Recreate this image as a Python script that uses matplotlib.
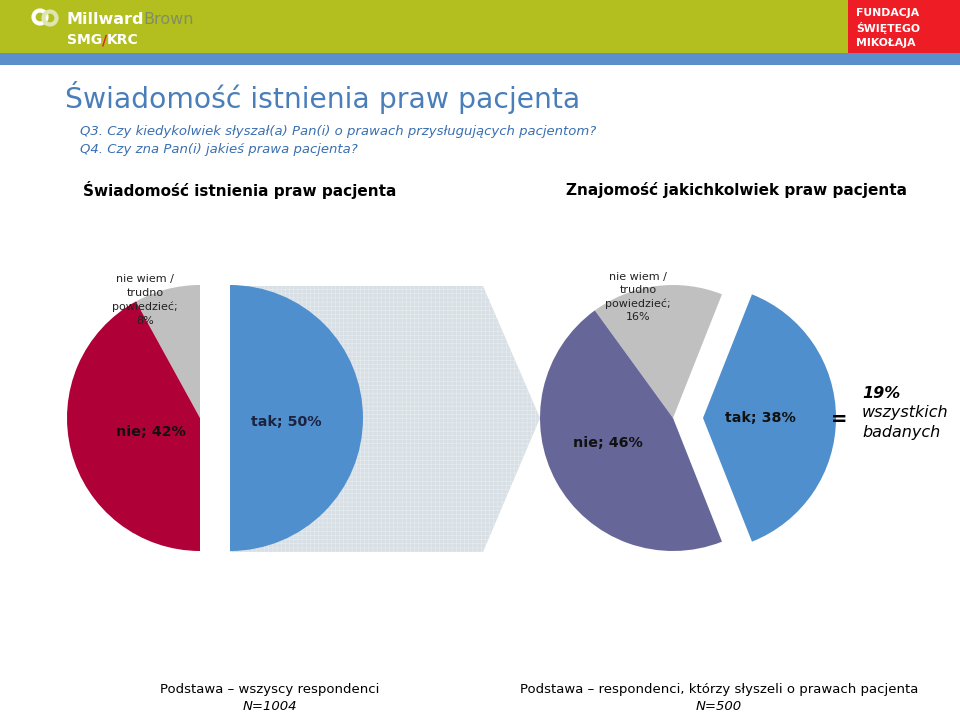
import matplotlib
matplotlib.use('Agg')
import matplotlib.pyplot as plt
from matplotlib.patches import Rectangle, Polygon, Circle

plt.rcParams['font.family'] = ['DejaVu Sans']
plt.rcParams['hatch.linewidth'] = 0.4

# data
left_cats = ['tak', 'nie wiem /\ntrudno\npowiedzieć', 'nie']
left_vals = [50, 8, 42]
right_cats = ['tak', 'nie wiem /\ntrudno\npowiedzieć', 'nie']
right_vals = [38, 16, 46]
left_colors = ['#4F8FCD', '#C0C0C0', '#B00038']
right_colors = ['#4F8FCD', '#C0C0C0', '#666699']

W, H = 960, 712


def Y(y):
    # pixel row (from top) -> axis coordinate
    return H - y


fig = plt.figure(figsize=(9.6, 7.12), dpi=100)
ax = fig.add_axes([0, 0, 1, 1])

# header band
ax.add_patch(Rectangle((0, Y(53)), W, 53, color='#B3BF1F', lw=0))
ax.add_patch(Rectangle((0, Y(65)), W, 12, color='#5B8FCB', lw=0))
ax.add_patch(Rectangle((848, Y(53)), W - 848, 53, color='#EE1C25', lw=0))
for i, t in enumerate(['FUNDACJA', 'ŚWIĘTEGO', 'MIKOŁAJA']):
    ax.text(856, Y(13 + i * 15), t, color='white', fontsize=7.8, fontweight='bold',
            va='center', ha='left')

# Millward Brown logo
ax.add_patch(Circle((40, Y(17)), 6.5, fc='none', ec='white', lw=3))
ax.add_patch(Circle((50, Y(18)), 6.5, fc='none', ec='#DDE6B0', lw=3))
mw = ax.text(66, Y(20), 'Millward', color='white', fontsize=11.5, fontweight='bold',
             va='center', ha='left')
ax.annotate('Brown', xy=(1, 0.5), xycoords=mw, color='#7F8F62', fontsize=11.5,
            va='center', ha='left')
smg = ax.text(67, Y(40), 'SMG', color='white', fontsize=10, fontweight='bold',
              va='center', ha='left')
sl = ax.annotate('/', xy=(1, 0.5), xycoords=smg, color='#E8202A', fontsize=10,
                 fontweight='bold', va='center', ha='left')
ax.annotate('KRC', xy=(1, 0.5), xycoords=sl, color='white', fontsize=10,
            fontweight='bold', va='center', ha='left')

# titles
ax.text(65, Y(97), 'Świadomość istnienia praw pacjenta', color='#4A7EBB', fontsize=20.3,
        va='center', ha='left')
ax.text(80, Y(132), 'Q3. Czy kiedykolwiek słyszał(a) Pan(i) o prawach przysługujących pacjentom?',
        color='#3A6FB0', fontsize=9.5, style='italic', va='center', ha='left')
ax.text(80, Y(150), 'Q4. Czy zna Pan(i) jakieś prawa pacjenta?',
        color='#3A6FB0', fontsize=9.5, style='italic', va='center', ha='left')

ax.text(240, Y(190), 'Świadomość istnienia praw pacjenta', fontsize=11, fontweight='bold',
        va='center', ha='center')
ax.text(736, Y(190), 'Znajomość jakichkolwiek praw pacjenta', fontsize=11, fontweight='bold',
        va='center', ha='center')

# chevron arrow between the charts
chev = [(230, Y(286)), (483, Y(286)), (540, Y(418)), (483, Y(552)), (230, Y(552))]
ax.add_patch(Polygon(chev, closed=True, fc='#D8E0E6', ec='none', lw=0))
ax.add_patch(Polygon(chev, closed=True, fc='none', ec='#E8EDF0', lw=0, hatch='++++'))

R = 133
# left pie
ax.pie(left_vals, colors=left_colors, startangle=-90, counterclock=True,
       explode=[30, 0, 0], radius=R, center=(200, Y(418)), frame=True,
       wedgeprops=dict(lw=0))
# right pie
ax.pie(right_vals, colors=right_colors, startangle=-360 * right_vals[0] / 100 / 2,
       counterclock=True, explode=[30, 0, 0], radius=R, center=(673, Y(418)),
       frame=True, wedgeprops=dict(lw=0))

# labels
ax.text(286, Y(422), f'{left_cats[0]}; {left_vals[0]}%', fontsize=10.3, fontweight='bold',
        color='#1C2340', ha='center', va='center')
ax.text(145, Y(300), f'{left_cats[1]};\n{left_vals[1]}%', fontsize=8, color='#222222',
        ha='center', va='center', linespacing=1.45)
ax.text(151, Y(432), f'{left_cats[2]}; {left_vals[2]}%', fontsize=10.3, fontweight='bold',
        color='#111111', ha='center', va='center')

ax.text(760, Y(418), f'{right_cats[0]}; {right_vals[0]}%', fontsize=10.3, fontweight='bold',
        color='#111111', ha='center', va='center')
ax.text(638, Y(297), f'{right_cats[1]};\n{right_vals[1]}%', fontsize=8, color='#222222',
        ha='center', va='center', linespacing=1.4)
ax.text(608, Y(443), f'{right_cats[2]}; {right_vals[2]}%', fontsize=10.3, fontweight='bold',
        color='#111111', ha='center', va='center')

ax.text(839, Y(419), '=', fontsize=14, fontweight='bold', ha='center', va='center')
ax.text(862, Y(394), '19%', fontsize=11.5, fontweight='bold', style='italic',
        ha='left', va='center')
ax.text(862, Y(413), 'wszystkich', fontsize=11.5, style='italic', ha='left', va='center')
ax.text(862, Y(433), 'badanych', fontsize=11.5, style='italic', ha='left', va='center')

# footers
ax.text(270, Y(690), 'Podstawa – wszyscy respondenci', fontsize=9.5, ha='center', va='center')
ax.text(270, Y(706), 'N=1004', fontsize=9.5, style='italic', ha='center', va='center')
ax.text(719, Y(690), 'Podstawa – respondenci, którzy słyszeli o prawach pacjenta', fontsize=9.5,
        ha='center', va='center')
ax.text(719, Y(706), 'N=500', fontsize=9.5, style='italic', ha='center', va='center')

ax.set_xlim(0, W)
ax.set_ylim(0, H)
ax.set_aspect('auto')
ax.axis('off')

fig.savefig('out.png', dpi=100)
